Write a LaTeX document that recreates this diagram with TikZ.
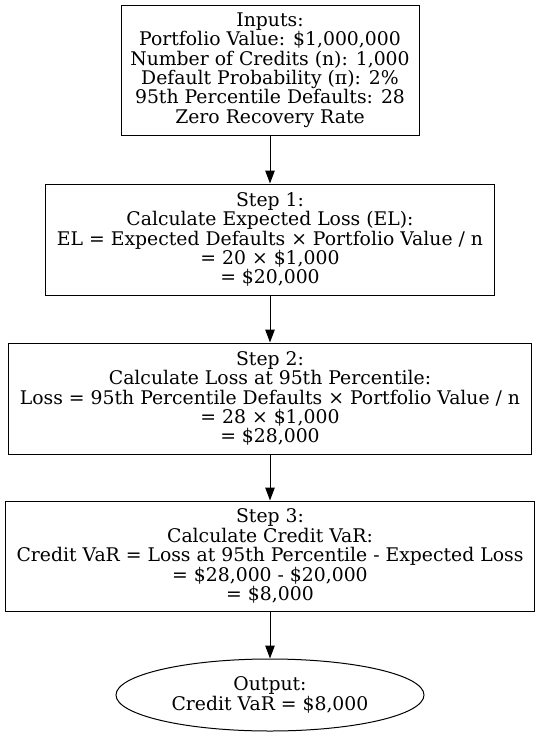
\documentclass[tikz,border=0pt]{standalone}
\usepackage{fontspec}
\setmainfont{DejaVu Serif}
\usetikzlibrary{arrows.meta,shapes.geometric}
\tikzset{
  stepbox/.style={draw, rectangle, align=center, inner sep=0pt, line width=1pt,
    font=\fontsize{18.8}{19.4}\selectfont},
  outbox/.style={draw, ellipse, align=center, inner sep=0pt, line width=1pt,
    font=\fontsize{18.8}{19.4}\selectfont},
  flow/.style={-{Triangle[length=13pt,width=9.5pt]}, line width=1pt}
}

\begin{document}
\begin{tikzpicture}[x=1pt,y=-1pt]
			%%%%% START %%%%%
			\useasboundingbox (0, 0) rectangle (540, 737);
			
			\node[stepbox, minimum width=298pt, minimum height=130pt] (inputs) at (270, 70)
				{Inputs:\\Portfolio Value: \$1,000,000\\Number of Credits (n): 1,000\\Default Probability (π): 2\%\\95th Percentile Defaults: 28\\Zero Recovery Rate};
			
			\node[stepbox, minimum width=449pt, minimum height=111pt] (step1) at (270, 239.5)
				{Step 1:\\Calculate Expected Loss (EL):\\EL = Expected Defaults × Portfolio Value / n\\= 20 × \$1,000\\= \$20,000};
			
			\node[stepbox, minimum width=523pt, minimum height=111pt] (step2) at (270, 398.5)
				{Step 2:\\Calculate Loss at 95th Percentile:\\Loss = 95th Percentile Defaults × Portfolio Value / n\\= 28 × \$1,000\\= \$28,000};
			
			\node[stepbox, minimum width=529pt, minimum height=110pt] (step3) at (270, 556)
				{Step 3:\\Calculate Credit VaR:\\Credit VaR = Loss at 95th Percentile - Expected Loss\\= \$28,000 - \$20,000\\= \$8,000};
			
			\node[outbox, minimum width=308pt, minimum height=72pt] (output) at (270, 695)
				{Output:\\Credit VaR = \$8,000};
			
			\draw[flow] (inputs) -- (step1);
			\draw[flow] (step1) -- (step2);
			\draw[flow] (step2) -- (step3);
			\draw[flow] (step3) -- (output);
			%%%%% END %%%%%
\end{tikzpicture}
\end{document}
